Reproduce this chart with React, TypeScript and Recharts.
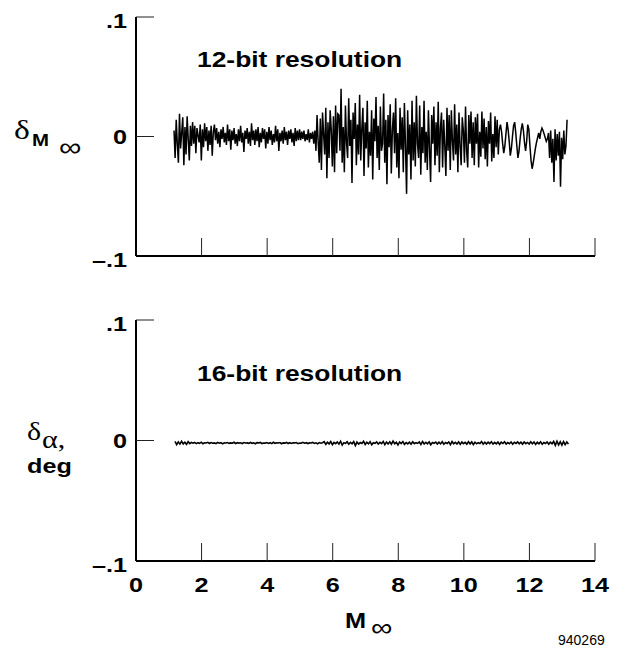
import { LineChart, Line, XAxis, YAxis } from "recharts";

const SANS = '"Liberation Sans", Arial, Helvetica, sans-serif';
const SERIF = '"Liberation Serif", "Times New Roman", serif';

const machTicks = [0, 2, 4, 6, 8, 10, 12, 14];
const deltaTicks = [-0.1, 0, 0.1];

// 12-bit run: delta Mach, one sample every 0.0333 Mach from M = 1.16 (units of 0.001)
const mach12Start = 1.16;
const mach12Step = 0.0333;
const dMach12bit = [
  5, -18, 14, -6, -22, 19, -10, 3, 16, -24, 8, -15, 17, -2, -20,
  9, -8, 12, -6, 9, -14, 7, 1, -5, 10, -20, 6, -9, 11, -4, 8, -12, 5, -7, 9, -16, 4, 10,
  -3, 7, -6, 4, -9, 6, -2, 8, -5, 3, -7, 10, -4, 6, -11, 5, -3, 7, -6, 2,
  -8, 6, -4, 9, -5, 3, -13, 5, -2, 7, -6, 4, -8, 11, -3, 5, -7, 6, -4, 8,
  -9, 3, -5, 7, -2, 6, -10, 4, -6, 8, -3, 5, -7, 2, -5, 9, -4, 6, -12, 3,
  -4, 5, -6, 8, -3, 4, -7, 5, -2, 6, -5, 3, -8, 7, -4, 5, -3, 6,
  -3, 4, -2, 5, -4, 2, -3, 6, -5, 3, -2, 4, -6, 5,
  -12, 18, -4, -22, 15, -28, 20, 2, -15, 24, -35, 12, -18, 22, 6, -25, 17, -30, 26, -14, 19,
  18, -12, 40, -22, 8, -30, 26, -5, -18, 32,
  -8, 14, -39, 20, -2, 28, -24, 10, -15, 35,
  -20, 6, 24, -33, 12, -10, 30, -26, 4, -16,
  22, -36, 15, -4, 33, -18, 9, -28, 25, -12,
  -6, 36, -22, 14, -40, 18, -9, 27, -31, 6,
  20, -14, 32, -26, 3, -35, 24, -11, 16, -30,
  28, -8, -48, 22, -15, 10, -36, 30, -20, 12,
  -25, 34, -6, -18, 26, -32, 8, -14, 30, -22,
  4, -28, 22, -10, -38, 18, -6, 25, -24, 12,
  -16, 29, -30, 7, 20, -26, 14, -8, -33, 24,
  -12, 18, -28, 22, -4, -20, 27, -15, 10, -30,
  20, -8, -24, 16, 5, -22, 25, -12, -26, 18, -6, 21,
  -18, 12, -24, 16, -6, 19, -26, 4, -17, 21, -10, 15, -19, 8, -25, 13, -6, 20, -21, 2, -18, 17, -9, 14, -15, 6,
  10, 4, -6, -14, -8, 2, 12, 6, -4, -16, -10, 0, 9, 12, 3, -8, -18, -12, -2, 6, 11, 5, -5, -12, -4, 10,
  6, -8, -20, -27, -22, -16, -10, -5, -1, 3, -2, 4, 7, 5, 2, -1, -4, -2,
  3, -18, 5, -22, -2, -38, 6, -20, 2, -16, 4, -42, -1, -19, 5, -15, -8, 14,
];

// 16-bit run: delta alpha, one sample every 0.05 Mach from M = 1.19 (units of 0.0001 deg)
const mach16Start = 1.19;
const mach16Step = 0.05;
const dAlpha16bit = [
  -8, -34, -12, -30, -6, -28, -14, -32, -10, -26, -16,
  -22, -16, -26, -18, -24, -14, -27, -19, -21, -15,
  -25, -17, -23, -20, -26, -16, -22, -18, -28, -19,
  -21, -17, -24, -20, -23, -15, -25, -18, -22, -19,
  -26, -17, -21, -20, -24, -16, -23, -19, -27, -18,
  -20, -16, -25, -21, -22, -17, -24, -18, -26, -15,
  -23, -19, -21, -17, -27, -20, -22, -16, -25, -18,
  -24, -19, -20, -17, -26, -21, -23, -15, -22, -18,
  -25, -20, -21, -16, -24, -19, -28, -17, -22, -18,
  -10, -32, -14, -28, -8, -35, -16, -26, -12, -30,
  -6, -38, -18, -24, -11, -31, -15, -27, -9, -42,
  -13, -29, -17, -25, -7, -33, -14, -28, -10, -36,
  -19, -23, -12, -30, -16, -26, -8, -34, -13, -29,
  -11, -31, -5, -27, -15, -37, -12, -25, -9, -32,
  -17, -28, -14, -30, -10, -26, -18, -24, -12, -33,
  -8, -29, -15, -27, -11, -35, -16, -23, -13, -30,
  -14, -28, -10, -31, -17, -25, -12, -34, -9, -27,
  -15, -29, -11, -32, -13, -26, -16, -30, -10, -28,
  -12, -33, -14, -27, -18, -25, -9, -31, -15, -29,
  -13, -26, -11, -30, -16, -28, -12, -32, -14, -25,
  -10, -29, -17, -27, -13, -31, -15, -24, -11, -28,
  -14, -30, -12, -26, -16, -29, -10, -27, -13, -33,
  -15, -28, -11, -31, -17, -25, -12, -30, -14, -27,
  -8, -40, -6, -36, -10, -38, -9, -34, -12, -30,
];

const topData = dMach12bit.map((v, i) => ({ mach: mach12Start + i * mach12Step, value: v / 1000 }));
const bottomData = dAlpha16bit.map((v, i) => ({ mach: mach16Start + i * mach16Step, value: v / 10000 }));

function YTick(props: any) {
  const { x, y, payload } = props;
  const v = payload.value;
  const label = v === 0 ? "0" : v > 0 ? ".1" : "\u2013.1";
  return (
    <g>
      {v > -0.1 && <line x1={x} x2={x + 18} y1={y} y2={y} stroke="#222" strokeWidth={1} />}
      <text
        transform={`translate(${x - 9},${y + (v === 0 ? 7 : 11)}) scale(1.2,1)`}
        textAnchor="end"
        fontFamily={SANS}
        fontWeight="bold"
        fontSize={21}
        fill="#000"
      >
        {label}
      </text>
    </g>
  );
}

function XTick(props: any) {
  const { x, y, payload, showLabel } = props;
  const v = payload.value;
  return (
    <g>
      {v > 0 && <line x1={x} x2={x} y1={y} y2={y - 18} stroke="#222" strokeWidth={1} />}
      {showLabel && (
        <text
          transform={`translate(${x},${y + 31}) scale(1.2,1)`}
          textAnchor="middle"
          fontFamily={SANS}
          fontWeight="bold"
          fontSize={21}
          fill="#000"
        >
          {v}
        </text>
      )}
    </g>
  );
}

function Panel({ data, height, margin, showLabels, strokeWidth }: any) {
  return (
    <LineChart width={634} height={height} data={data} margin={margin}>
      <XAxis
        type="number"
        dataKey="mach"
        domain={[0, 14]}
        ticks={machTicks}
        interval={0}
        height={30}
        tickSize={0}
        tickMargin={0}
        tickLine={false}
        axisLine={{ stroke: "#000", strokeWidth: 2 }}
        tick={(p: any) => <XTick {...p} showLabel={showLabels} />}
      />
      <YAxis
        type="number"
        domain={[-0.1, 0.1]}
        ticks={deltaTicks}
        interval={0}
        width={60}
        tickSize={0}
        tickMargin={0}
        tickLine={false}
        axisLine={{ stroke: "#000", strokeWidth: 2 }}
        tick={(p: any) => <YTick {...p} />}
      />
      <Line
        type="linear"
        dataKey="value"
        stroke="#000"
        strokeWidth={strokeWidth}
        dot={false}
        activeDot={false}
        isAnimationActive={false}
      />
    </LineChart>
  );
}

export default function App() {
  return (
    <div style={{ position: "absolute", left: 0, top: 0, width: 634, height: 648, background: "#fff" }}>
      <div style={{ position: "absolute", left: 0, top: 0 }}>
        <Panel
          data={topData}
          height={300}
          margin={{ top: 17, right: 39, bottom: 14, left: 76 }}
          showLabels={false}
          strokeWidth={1.5}
        />
      </div>
      <div style={{ position: "absolute", left: 0, top: 300 }}>
        <Panel
          data={bottomData}
          height={348}
          margin={{ top: 20, right: 39, bottom: 57, left: 76 }}
          showLabels
          strokeWidth={1.6}
        />
      </div>
      <svg width={634} height={648} style={{ position: "absolute", left: 0, top: 0, pointerEvents: "none" }}>
        <text transform="translate(197,67) scale(1.2,1)" fontFamily={SANS} fontWeight="bold" fontSize={22}>
          12-bit resolution
        </text>
        <text transform="translate(197,381) scale(1.2,1)" fontFamily={SANS} fontWeight="bold" fontSize={22}>
          16-bit resolution
        </text>

        <text transform="translate(14,139) scale(1.2,1)" fontFamily={SERIF} fontSize={28}>δ</text>
        <text transform="translate(32,146) scale(1.2,1)" fontFamily={SANS} fontWeight="bold" fontSize={17}>M</text>
        <text transform="translate(59,156) scale(1.2,1)" fontFamily={SANS} fontSize={26}>∞</text>

        <text transform="translate(27,440) scale(1.2,1)" fontFamily={SERIF} fontSize={25}>δ</text>
        <text transform="translate(42,448) scale(1.2,1)" fontFamily={SERIF} fontSize={25}>α,</text>
        <text transform="translate(27,473) scale(1.2,1)" fontFamily={SANS} fontWeight="bold" fontSize={21}>deg</text>

        <text transform="translate(345,628) scale(1.15,1)" fontFamily={SANS} fontWeight="bold" fontSize={22}>M</text>
        <text transform="translate(371,636) scale(1.2,1)" fontFamily={SANS} fontSize={25}>∞</text>

        <text x={558} y={645} fontFamily={SANS} fontSize={14}>940269</text>
      </svg>
    </div>
  );
}
